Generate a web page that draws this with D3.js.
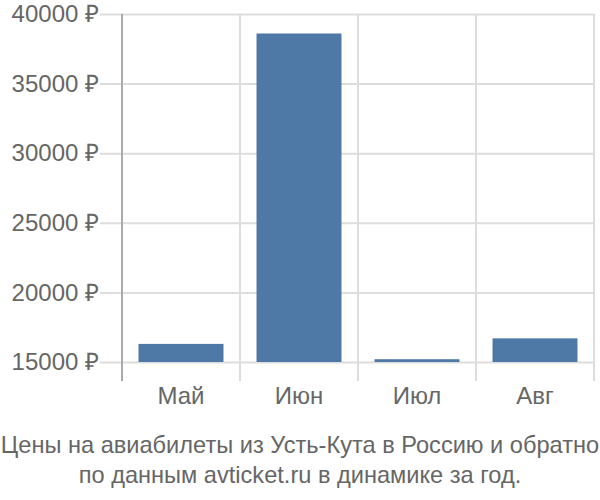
<!DOCTYPE html>
<html>
<head>
<meta charset="utf-8">
<script src="https://cdn.jsdelivr.net/npm/d3@7"></script>
<style>
	body { margin: 0; background: #fff; }
	svg { font-family: "Liberation Sans", Arial, sans-serif; }
</style>
</head>
<body>
<svg id="chart" width="600" height="500"></svg>
<script>
// chart data
const months = ['Май', 'Июн', 'Июл', 'Авг'];
const prices = [16300, 38600, 15200, 16700];
const yTicks = [15000, 20000, 25000, 30000, 35000, 40000];
const titleLines = [
	'Цены на авиабилеты из Усть-Кута в Россию и обратно',
	'по данным avticket.ru в динамике за год.'
];

/*=================
=== Layout
=================*/
const plotLeft = 122;
const plotRight = 594;
const plotTop = 14;
const plotBottom = 362;
const axisBottom = 381;
const fontSize = '24px';

const svg = d3.select('#chart');

const xScale = d3.scaleBand()
	.domain(months)
	.range([plotLeft, plotRight])
	.paddingInner(0.28)
	.paddingOuter(0.14);

// plain band scale for the grid columns
const colScale = d3.scaleBand()
	.domain(months)
	.range([plotLeft, plotRight]);

const yScale = d3.scaleLinear()
	.domain([15000, 40000])
	.range([plotBottom, plotTop]);

// horizontal grid + y labels
const yAxis = svg.append('g')
	.attr('class', 'axis axis-y')
	.attr('transform', `translate(${plotRight}, 0)`)
	.call(d3.axisLeft(yScale)
		.tickValues(yTicks)
		.tickSize(plotRight - 100)
		.tickPadding(1)
		.tickFormat(d => d + ' ₽'));

yAxis.select('.domain').remove();
yAxis.selectAll('line').attr('stroke', '#dddddd').attr('stroke-width', 2);
yAxis.selectAll('text')
	.attr('fill', '#666')
	.style('font-size', fontSize);

// vertical grid lines at the band edges
svg.append('g')
	.selectAll('line')
	.data(months)
	.enter()
	.append('line')
		.attr('x1', d => colScale(d) + colScale.bandwidth())
		.attr('x2', d => colScale(d) + colScale.bandwidth())
		.attr('y1', plotTop)
		.attr('y2', axisBottom)
		.attr('stroke', '#dddddd')
		.attr('stroke-width', 2);

// left axis line
svg.append('line')
	.attr('x1', plotLeft)
	.attr('x2', plotLeft)
	.attr('y1', plotTop)
	.attr('y2', axisBottom)
	.attr('stroke', '#aaaaaa')
	.attr('stroke-width', 2);

// bars
svg.append('g')
	.selectAll('.bar')
	.data(prices)
	.enter()
	.append('rect')
		.attr('class', 'bar')
		.attr('x', (d, i) => xScale(months[i]))
		.attr('y', d => yScale(d))
		.attr('width', xScale.bandwidth())
		.attr('height', d => yScale(15000) - yScale(d))
		.attr('fill', '#4e79a7');

// x labels
svg.append('g')
	.selectAll('text')
	.data(months)
	.enter()
	.append('text')
		.attr('x', d => colScale(d) + colScale.bandwidth() / 2)
		.attr('y', 404)
		.attr('text-anchor', 'middle')
		.attr('fill', '#666')
		.style('font-size', fontSize)
		.text(d => d);

// title
svg.append('g')
	.selectAll('text')
	.data(titleLines)
	.enter()
	.append('text')
		.attr('x', 300)
		.attr('y', (d, i) => 453 + i * 30)
		.attr('text-anchor', 'middle')
		.attr('fill', '#666')
		.style('font-size', '23.6px')
		.text(d => d);
</script>
</body>
</html>
